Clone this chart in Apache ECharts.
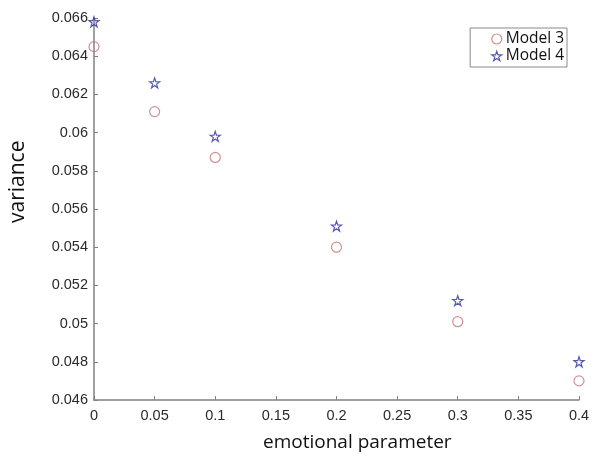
<!DOCTYPE html>
<html>
<head>
<meta charset="utf-8">
<script src="https://cdn.jsdelivr.net/npm/echarts@6/dist/echarts.min.js"></script>
<style>
  html, body { margin: 0; padding: 0; background: #fff; }
  #chart { width: 593px; height: 464px; }
</style>
</head>
<body>
<div id="chart"></div>
<script>
// Emotional parameter values (x) and variance per model
const emotionalParam = [0, 0.05, 0.1, 0.2, 0.3, 0.4];
const model3Variance = [0.0645, 0.0611, 0.0587, 0.0540, 0.0501, 0.0470];
const model4Variance = [0.0658, 0.0626, 0.0598, 0.0551, 0.0512, 0.0480];
const seriesNames = ['Model 3', 'Model 4'];

// Outline five-pointed star
const STAR = 'path://M50,0 L61.8,35.4 L99,35.4 L69,57.3 L80.4,92.7 L50,70.8 L19.6,92.7 L31,57.3 L1,35.4 L38.2,35.4 Z';

const circleColor = '#c0777c';
const starColor = '#2e2e9c';
const axisColor = '#808080';
const tickLabelColor = '#2a2a2a';
const hollow = 'rgba(0,0,0,0)';

function pairs(xs, ys) { return xs.map((x, i) => [x, ys[i]]); }

const chart = echarts.init(document.getElementById('chart'), null, { renderer: 'canvas' });

chart.setOption({
  animation: false,
  backgroundColor: '#ffffff',
  grid: { left: 94, right: 14, top: 18, bottom: 64, containLabel: false },
  xAxis: {
    type: 'value',
    min: 0, max: 0.4, interval: 0.05,
    axisLine: { show: true, onZero: false, lineStyle: { color: axisColor, width: 1.5 } },
    axisTick: { show: true, inside: true, length: 4, lineStyle: { color: axisColor } },
    axisLabel: { color: tickLabelColor, fontFamily: 'Liberation Sans, Arial, sans-serif', fontSize: 14.5, margin: 8,
                 formatter: v => String(+v.toFixed(2)) },
    splitLine: { show: false }
  },
  yAxis: {
    type: 'value',
    min: 0.046, max: 0.066, interval: 0.002,
    axisLine: { show: true, onZero: false, lineStyle: { color: axisColor, width: 1.5 } },
    axisTick: { show: true, inside: true, length: 4, lineStyle: { color: axisColor } },
    axisLabel: { color: tickLabelColor, fontFamily: 'Liberation Sans, Arial, sans-serif', fontSize: 14.5, margin: 6,
                 formatter: v => String(+v.toFixed(3)) },
    splitLine: { show: false }
  },
  legend: {
    right: 26, top: 28,
    orient: 'vertical',
    itemGap: 1,
    itemWidth: 10, itemHeight: 10,
    padding: [3, 3, 3, 21],
    borderColor: '#8a8a8a', borderWidth: 1, borderRadius: 0,
    backgroundColor: '#fff',
    textStyle: { fontFamily: 'Open Sans, sans-serif', fontSize: 15.5, color: '#111', padding: [0, 0, 0, -1] },
    data: [
      { name: seriesNames[0], icon: 'circle',
        itemStyle: { color: hollow, borderColor: circleColor, borderWidth: 1.2 } },
      { name: seriesNames[1], icon: STAR,
        itemStyle: { color: hollow, borderColor: starColor, borderWidth: 1.2 } }
    ]
  },
  series: [
    {
      name: seriesNames[0],
      type: 'scatter',
      symbol: 'circle',
      symbolSize: 10,
      itemStyle: { color: hollow, borderColor: circleColor, borderWidth: 1.2 },
      data: pairs(emotionalParam, model3Variance),
      clip: false
    },
    {
      name: seriesNames[1],
      type: 'scatter',
      symbol: STAR,
      symbolSize: 10,
      itemStyle: { color: hollow, borderColor: starColor, borderWidth: 1.2 },
      data: pairs(emotionalParam, model4Variance),
      clip: false
    }
  ],
  graphic: [
    {
      type: 'text',
      left: 263, top: 433,
      style: { text: 'emotional parameter', fontFamily: 'Open Sans, sans-serif', fontSize: 19, fill: '#111' }
    },
    {
      type: 'text',
      x: 8, y: 223,
      rotation: Math.PI / 2,
      style: { text: 'variance', fontFamily: 'Open Sans, sans-serif', fontSize: 21, fill: '#111' }
    }
  ]
});
</script>
</body>
</html>
